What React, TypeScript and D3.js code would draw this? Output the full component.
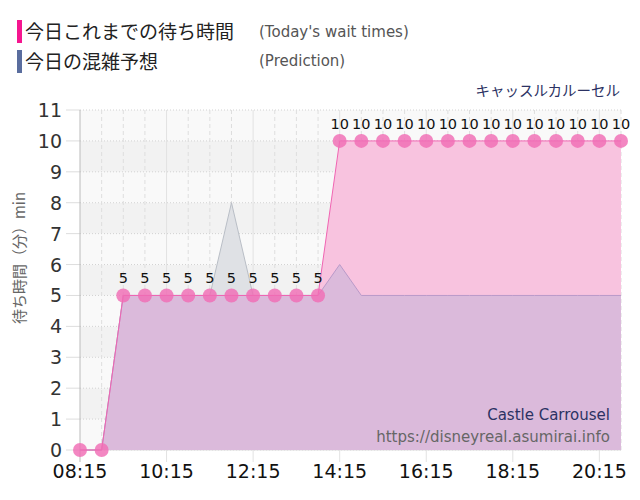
import React from "react";
import * as d3 from "d3";

const times = ["08:15","08:45","09:15","09:45","10:15","10:45","11:15","11:45","12:15","12:45","13:15","13:45","14:15","14:45","15:15","15:45","16:15","16:45","17:15","17:45","18:15","18:45","19:15","19:45","20:15","20:45"];
const waitTimes = [0,0,5,5,5,5,5,5,5,5,5,5,10,10,10,10,10,10,10,10,10,10,10,10,10,10];
const prediction = [0,0,5,5,5,5,5,5,5,5,5,5,6,5,5,5,5,5,5,5,5,5,5,5,5,5];
const pastSeries = [0,0,5,5,5,5,5,8,5,5,5,5,5,5,5,5,5,5,5,5,5,5,5,5,5,5];
const xTickLabels = ["08:15","10:15","12:15","14:15","16:15","18:15","20:15"];
const yTicks = [0,1,2,3,4,5,6,7,8,9,10,11];

const toMin = (s: string) => { const [h, m] = s.split(":").map(Number); return h * 60 + m; };

export default function App() {
  const W = 640, H = 500;
  const L = 80, R = 621, T = 110, B = 450;
  const x = d3.scaleLinear().domain([toMin(times[0]), toMin(times[times.length - 1])]).range([L, R]);
  const y = d3.scaleLinear().domain([0, 11]).range([B, T]);
  const jp = "'Noto Sans CJK JP', sans-serif";
  const lat = "'DejaVu Sans', Verdana, sans-serif";

  const area = (vals: number[]) => d3.area<number>().x((_, i) => x(toMin(times[i]))).y0(y(0)).y1(d => y(d))(vals) || "";
  const line = (vals: number[]) => d3.line<number>().x((_, i) => x(toMin(times[i]))).y(d => y(d))(vals) || "";

  const bands = d3.range(0, 11);

  return (
    <svg width={W} height={H} style={{ position: "absolute", left: 0, top: 0, background: "#fff" }}>
      {/* legend */}
      <rect x={17} y={20} width={5} height={23} fill="#f5168f" />
      <text x={25} y={39} fontFamily={jp} fontSize={19} fill="#222">今日これまでの待ち時間</text>
      <text x={259} y={37} fontFamily={lat} fontSize={15} fill="#555">(Today's wait times)</text>
      <rect x={17} y={50} width={5} height={23} fill="#5a6d9e" />
      <text x={25} y={69} fontFamily={jp} fontSize={19} fill="#222">今日の混雑予想</text>
      <text x={259} y={66} fontFamily={lat} fontSize={15} fill="#555">(Prediction)</text>
      <text x={620} y={96} textAnchor="end" fontFamily={jp} fontSize={14.5} fill="#2c3263">キャッスルカルーセル</text>

      {/* background bands */}
      {bands.map(b => (
        <rect key={b} x={L} y={y(b + 1)} width={R - L} height={y(b) - y(b + 1)} fill={b % 2 === 0 ? "#f9f9f9" : "#f2f2f2"} />
      ))}
      {/* horizontal grid */}
      {yTicks.map(t => (
        <g key={t}>
          <line x1={L} x2={R} y1={y(t)} y2={y(t)} stroke="#d2d2d2" strokeDasharray="1,2" />
          <line x1={66} x2={L} y1={y(t)} y2={y(t)} stroke="#dddddd" />
          <text x={62} y={y(t) + 7} textAnchor="end" fontFamily={lat} fontSize={19} fill="#333">{t}</text>
        </g>
      ))}
      {/* vertical grid */}
      {times.slice(1).map(t => {
        const major = xTickLabels.includes(t);
        return (
          <line key={t} x1={x(toMin(t))} x2={x(toMin(t))} y1={T} y2={major ? 462 : B}
            stroke={major ? "#e2e2e2" : "#dedede"} strokeDasharray={major ? undefined : "4,3"} />
        );
      })}
      <line x1={L} x2={L} y1={T} y2={462} stroke="#bbbbbb" />
      <line x1={L} x2={R} y1={B} y2={B} stroke="#dddddd" />

      {/* series areas */}
      <path d={area(pastSeries)} fill="#dfe1e5" />
      <path d={line(pastSeries)} fill="none" stroke="#b9bec6" strokeWidth={1} />
      <path d={area(waitTimes)} fill="#f8c3df" />
      <path d={area(prediction)} fill="#dbbadb" />
      <path d={line(prediction)} fill="none" stroke="#b99ac9" strokeWidth={1} />
      <path d={line(waitTimes)} fill="none" stroke="#f064b2" strokeWidth={1} />

      {/* dots and labels */}
      {waitTimes.map((v, i) => (
        <g key={i}>
          <circle cx={x(toMin(times[i]))} cy={y(v)} r={7} fill="#f06cb4" fillOpacity={0.82} />
          {v > 0 && (
            <text x={x(toMin(times[i]))} y={y(v) - 12} textAnchor="middle" fontFamily={lat} fontSize={14.5} fill="#111">{v}</text>
          )}
        </g>
      ))}

      {/* x tick labels */}
      {xTickLabels.map(t => (
        <text key={t} x={x(toMin(t))} y={478} textAnchor="middle" fontFamily={lat} fontSize={19} fill="#111">{t}</text>
      ))}

      {/* y axis title */}
      <text transform={`translate(25,${258}) rotate(-90)`} textAnchor="middle" fontFamily={jp} fontSize={15} fill="#666">待ち時間（分）min</text>

      {/* credits */}
      <text x={610} y={420} textAnchor="end" fontFamily={lat} fontSize={15} fill="#2c3263">Castle Carrousel</text>
      <text x={610} y={442} textAnchor="end" fontFamily={lat} fontSize={15} fill="#666">https://disneyreal.asumirai.info</text>
    </svg>
  );
}
